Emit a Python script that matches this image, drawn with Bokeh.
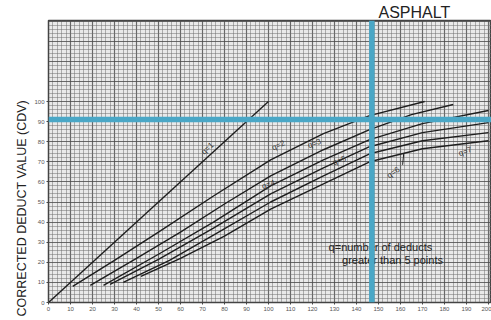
from bokeh.plotting import figure
from bokeh.models import FixedTicker, Span, Range1d, Title
from bokeh.embed import file_html
from bokeh.resources import INLINE
from bokeh.core.properties import value
import math

# ---- data (TDV -> CDV) ----
q1_x = [0, 100]
q1_y = [0, 100]
q2_x = [11, 30, 50, 75, 101, 125, 146, 171]
q2_y = [8, 21, 35, 53, 71, 84, 93, 100]
q3_x = [19, 40, 60, 80, 101, 125, 146, 165, 184]
q3_y = [8.5, 22, 35, 49, 63, 76, 86, 93.5, 98.5]
q4_x = [25, 50, 75, 101, 125, 146, 170, 200]
q4_y = [8.5, 24, 40, 58, 71, 81, 89, 95.5]
q5_x = [28, 50, 75, 101, 125, 146, 170, 200]
q5_y = [9, 21.5, 37, 54, 67, 77.5, 84.5, 89.5]
q6_x = [34, 55, 75, 101, 125, 146, 170, 200]
q6_y = [10, 21, 33.5, 50, 63, 74, 80.5, 84.5]
q7_x = [42, 60, 80, 101, 125, 146, 170, 200]
q7_y = [13, 22, 33, 46.5, 59, 70, 76.5, 80.5]

curve_names = ["q=1", "q=2", "q=3", "q=4", "q=5", "q=6", "q=7"]
x_ticks = list(range(0, 201, 10))
y_ticks = list(range(0, 101, 10))
example_tdv = 147
example_cdv = 91

title_text = "ASPHALT"
y_label_text = "CORRECTED DEDUCT VALUE (CDV)"
note_lines = ["q=number of deducts", "greater than 5 points"]

# annotation placement (data coordinates)
label_x = [72.3, 104.5, 120.9, 100.0, 132.3, 156.8, 189.5]
label_y = [76.6, 78.1, 79.1, 58.7, 70.6, 64.7, 75.1]
label_angle_deg = [43, 24, 22, 20, 20, 35, 20]

p = figure(width=491, height=320, output_backend="svg", toolbar_location=None,
           x_range=Range1d(0, 201.4), y_range=Range1d(0, 140.3),
           min_border_left=48, min_border_right=0, min_border_top=20, min_border_bottom=18)
p.background_fill_color = "#e9e9e9"
p.border_fill_color = "white"
p.outline_line_color = "#444444"
p.outline_line_width = 1.5

# grid paper
p.xgrid.ticker = FixedTicker(ticks=list(range(0, 201, 10)), minor_ticks=list(range(0, 203, 2)))
p.ygrid.ticker = FixedTicker(ticks=list(range(0, 141, 10)), minor_ticks=list(range(0, 142, 2)))
for g in (p.xgrid, p.ygrid):
    g.grid_line_color = "#444444"
    g.grid_line_alpha = 0.65
    g.grid_line_width = 1.2
    g.minor_grid_line_color = "#6e6e6e"
    g.minor_grid_line_alpha = 0.5
    g.minor_grid_line_width = 1

# axes
p.xaxis.ticker = FixedTicker(ticks=x_ticks)
p.yaxis.ticker = FixedTicker(ticks=y_ticks)
for ax in (p.xaxis, p.yaxis):
    ax.major_label_text_font_size = "6px"
    ax.major_label_text_color = "#555555"
    ax.major_label_standoff = 2
    ax.major_tick_in = 0
    ax.major_tick_out = 2
    ax.minor_tick_line_color = None
    ax.axis_line_color = "#444444"
    ax.major_tick_line_color = "#444444"
    ax.major_label_text_font = "Liberation Sans"

# curves
for xs, ys in [(q1_x, q1_y), (q2_x, q2_y), (q3_x, q3_y), (q4_x, q4_y),
               (q5_x, q5_y), (q6_x, q6_y), (q7_x, q7_y)]:
    p.line(xs, ys, line_color="#1e1e1e", line_width=1.4)

# q=6 leader
p.line([161, 161.5], [68.5, 74.2], line_color="#1e1e1e", line_width=1)

# curve labels
p.text(x=label_x, y=label_y, text=curve_names,
       angle=[math.radians(a) for a in label_angle_deg],
       text_font=value("Liberation Sans"), text_font_size="8px", text_color="#333333",
       text_align="center", text_baseline="middle")

# example reading lines
p.add_layout(Span(location=example_tdv, dimension="height", line_color="#4aa7c6", line_width=5.5))
p.add_layout(Span(location=example_cdv, dimension="width", line_color="#4aa7c6", line_width=5.5))

# note
p.text(x=[150.9, 156.4], y=[27.4, 20.9], text=note_lines,
       text_font=value("Liberation Sans"), text_font_size="11px", text_color="#222222",
       text_align="center", text_baseline="middle")

# title and y label
p.add_layout(Title(text=title_text, align="left", offset=330, standoff=0,
                   text_font="Liberation Sans", text_font_size="16px",
                   text_font_style="normal", text_color="#222222"), "above")
p.add_layout(Title(text=y_label_text, align="left", offset=-14, standoff=5,
                   text_font="Liberation Sans", text_font_size="12.5px",
                   text_font_style="normal", text_color="#222222"), "left")

open("out.html", "w").write(file_html(p, INLINE))
